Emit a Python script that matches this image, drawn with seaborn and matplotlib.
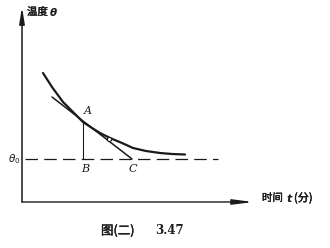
import matplotlib
matplotlib.use("Agg")
import matplotlib.pyplot as plt
import matplotlib.patheffects as pe
import seaborn as sns
import pandas as pd

# Cooling curve (time t, temperature theta), arbitrary units
t_curve = [2.1, 3.0, 4.1, 5.1, 6.1, 7.0, 7.8, 8.8, 10.0, 11.1, 12.4, 13.8, 15.0, 16.3]
theta_curve = [12.9, 11.5, 10.0, 9.0, 8.0, 7.4, 6.9, 6.4, 5.9, 5.4, 5.1, 4.9, 4.8, 4.75]

# Tangent at A down to C
t_tangent = [3.0, 11.0]
theta_tangent = [10.5, 4.3]

theta0 = 4.3
t_dash = [0.3, 19.6]
point_A = (6.1, 8.0)
point_B = (6.1, 4.3)
point_C = (11.0, 4.3)
point_mark = (8.7, 6.3)

sns.set_theme(style="white")
plt.rcParams['font.family'] = ['Noto Sans CJK SC', 'DejaVu Sans']

fig = plt.figure(figsize=(3.3, 2.48), dpi=100)
ax = fig.add_axes([0, 0, 1, 1])
ax.set_xlim(-2.2, 30.8)
ax.set_ylim(-4.6, 20.2)
ax.axis("off")

ink = "#1a1a1a"
bold = [pe.withStroke(linewidth=0.3, foreground=ink)]
df = pd.DataFrame({"t": t_curve, "theta": theta_curve})
sns.lineplot(data=df, x="t", y="theta", ax=ax, color=ink, linewidth=1.6, sort=True)
sns.lineplot(x=t_tangent, y=theta_tangent, ax=ax, color=ink, linewidth=1.1)
ax.plot(t_dash, [theta0, theta0], color=ink, linewidth=0.9, dashes=(10, 5))
ax.plot([point_A[0], point_B[0]], [point_A[1], point_B[1]], color=ink, linewidth=0.8)
ax.plot([point_mark[0]], [point_mark[1]], marker="o", markersize=3, mfc="white", mec=ink, mew=0.8)

# Axes as arrows
ax.annotate("", xy=(0, 19.5), xytext=(0, 0),
            arrowprops=dict(arrowstyle="-|>,head_length=0.8,head_width=0.13", color=ink, lw=1.1, shrinkA=0, shrinkB=0))
ax.annotate("", xy=(23.1, 0), xytext=(0, 0),
            arrowprops=dict(arrowstyle="-|>,head_length=1.0,head_width=0.13", color=ink, lw=1.0, shrinkA=0, shrinkB=0))

serif = dict(family="DejaVu Serif", style="italic", fontsize=8, color=ink)
ax.text(point_A[0] + 0.5, point_A[1] + 1.1, "A", ha="center", va="center", **serif)
ax.text(point_B[0] + 0.2, point_B[1] - 1.0, "B", ha="center", va="center", **serif)
ax.text(point_C[0] + 0.1, point_C[1] - 1.0, "C", ha="center", va="center", **serif)

ax.text(-0.2, theta0, r"$\boldsymbol{\theta_0}$", ha="right", va="center", fontsize=7.5, color=ink)
ax.text(0.5, 19.0, "温度", ha="left", va="center", fontsize=7.5, color=ink, path_effects=bold)
ax.text(2.7, 19.0, r"$\boldsymbol{\theta}$", ha="left", va="center", fontsize=7.5, color=ink)
ax.text(24.0, 0.4, "时间", ha="left", va="center", fontsize=7.5, color=ink, path_effects=bold)
ax.text(26.4, 0.4, r"$\boldsymbol{t}$", ha="left", va="center", fontsize=8, color=ink)
ax.text(27.2, 0.4, "(分)", ha="left", va="center", fontsize=8, color=ink, path_effects=bold)

ax.text(7.9, -2.9, "图(二)", ha="left", va="center", fontsize=9, color=ink, path_effects=bold)
ax.text(13.3, -2.9, "3.47", ha="left", va="center", fontsize=8.5, fontweight="bold",
        family="DejaVu Serif", color=ink)

fig.savefig("out.png", dpi=100, facecolor="white")
